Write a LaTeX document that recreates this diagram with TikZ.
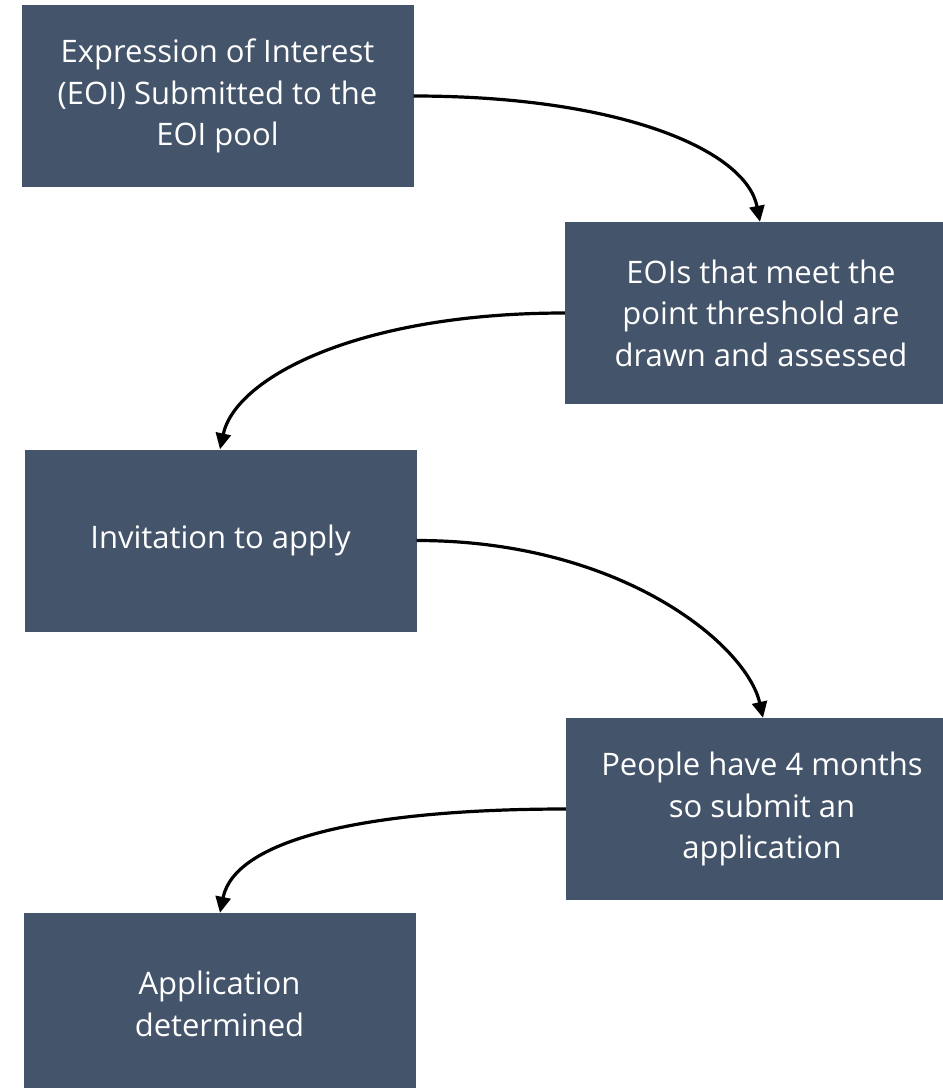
\documentclass[tikz,border=0pt]{standalone}
\usepackage{fontspec}
\setmainfont{Open Sans}
\usetikzlibrary{arrows.meta}
\definecolor{boxfill}{HTML}{44546A}
\tikzset{
  stepbox/.style={fill=boxfill, draw=none, minimum width=392pt, minimum height=182pt, inner sep=0pt,
    text=white, align=center, font=\fontsize{31}{41.5}\selectfont},
  flow/.style={line width=3.2pt, -{Triangle[length=16pt,width=15pt]}}
}
\begin{document}
\begin{tikzpicture}[x=1pt,y=-1pt]
\useasboundingbox (0,0) rectangle (943,1088);
\clip (0,0) rectangle (943,1088);
\node[stepbox] (b1) at (217.5,96) {Expression of Interest\\(EOI) Submitted to the\\EOI pool};
\node[stepbox] (b2) at (761,313) {EOIs that meet the\\point threshold are\\drawn and assessed};
\node[stepbox] (b3) at (220.5,540.5) {Invitation to apply};
\node[stepbox] (b4) at (762,809) {People have 4 months\\so submit an\\application};
\node[stepbox] (b5) at (219.5,1004) {Application\\determined};
\draw[flow] (b1.east) .. controls ++(206,0) and ([xshift=-15pt,yshift=72pt]b2.north) .. ([xshift=-1pt]b2.north);
\draw[flow] (b2.west) .. controls ++(-206,0) and ([xshift=15pt,yshift=72pt]b3.north) .. ([xshift=-0.5pt]b3.north);
\draw[flow] (b3.east) .. controls ++(206,0) and ([xshift=-15pt,yshift=72pt]b4.north) .. ([xshift=1pt]b4.north);
\draw[flow] (b4.west) .. controls ++(-206,0) and ([xshift=15pt,yshift=72pt]b5.north) .. ([xshift=0.5pt]b5.north);
\end{tikzpicture}
\end{document}
